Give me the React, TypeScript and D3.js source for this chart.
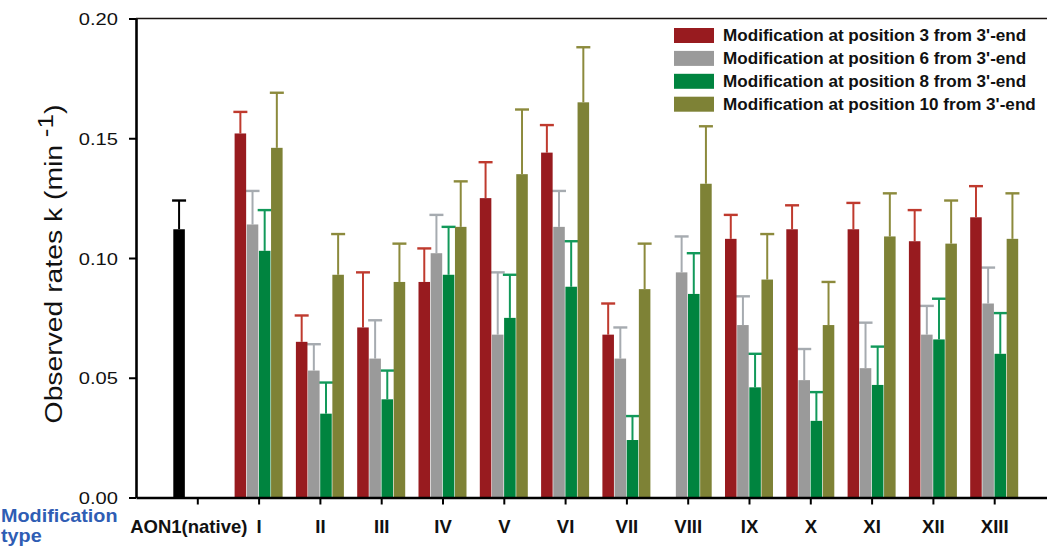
import { useEffect, useRef } from "react";
import * as d3 from "d3";

// x categories (first one is the unmodified AON1)
const categories = ["AON1(native)", "I", "II", "III", "IV", "V", "VI", "VII", "VIII", "IX", "X", "XI", "XII", "XIII"];

const seriesNames = [
  "Modification at position 3 from 3'-end",
  "Modification at position 6 from 3'-end",
  "Modification at position 8 from 3'-end",
  "Modification at position 10 from 3'-end",
];
const barColors = ["#981b1f", "#9a9a9a", "#00843f", "#7e8236"];
const errColors = ["#bf3a2e", "#a6abb0", "#12995a", "#8c8a3c"];

const nativeValue = 0.112;
const nativeError = 0.012;

// values for I..XIII, null = not measured
const pos3Values = [0.152, 0.065, 0.071, 0.090, 0.125, 0.144, 0.068, null, 0.108, 0.112, 0.112, 0.107, 0.117];
const pos3Errors = [0.009, 0.011, 0.023, 0.014, 0.015, 0.0115, 0.013, null, 0.010, 0.010, 0.011, 0.013, 0.013];
const pos6Values = [0.114, 0.053, 0.058, 0.102, 0.068, 0.113, 0.058, 0.094, 0.072, 0.049, 0.054, 0.068, 0.081];
const pos6Errors = [0.014, 0.011, 0.016, 0.016, 0.026, 0.015, 0.013, 0.015, 0.012, 0.013, 0.019, 0.012, 0.015];
const pos8Values = [0.103, 0.035, 0.041, 0.093, 0.075, 0.088, 0.024, 0.085, 0.046, 0.032, 0.047, 0.066, 0.060];
const pos8Errors = [0.017, 0.013, 0.012, 0.020, 0.018, 0.019, 0.010, 0.017, 0.014, 0.012, 0.016, 0.017, 0.017];
const pos10Values = [0.146, 0.093, 0.090, 0.113, 0.135, 0.165, 0.087, 0.131, 0.091, 0.072, 0.109, 0.106, 0.108];
const pos10Errors = [0.023, 0.017, 0.016, 0.019, 0.027, 0.023, 0.019, 0.024, 0.019, 0.018, 0.018, 0.018, 0.019];

const yTicks = [0, 0.05, 0.1, 0.15, 0.2];

export default function App() {
  const ref = useRef<SVGSVGElement>(null);

  useEffect(() => {
    const W = 1047, H = 546;
    const left = 136, top = 18.5, bottom = 497.5, right = 1055.5;

    const svg = d3.select(ref.current);
    svg.selectAll("*").remove();

    const x = d3.scalePoint().domain(categories).range([left, right]).padding(1);
    const slot = d3.scaleBand().domain(["0", "1", "2", "3"]).range([-24, 24]).paddingInner(0.05);
    const y = d3.scaleLinear().domain([0, 0.2]).range([bottom, top]);

    // build bar records
    const valueSets = [pos3Values, pos6Values, pos8Values, pos10Values];
    const errorSets = [pos3Errors, pos6Errors, pos8Errors, pos10Errors];
    const bars: { cat: string; s: number; v: number; e: number; fill: string; ec: string }[] = [];
    bars.push({ cat: categories[0], s: 0, v: nativeValue, e: nativeError, fill: "#000", ec: "#000" });
    valueSets.forEach((vals, s) => {
      vals.forEach((v, i) => {
        if (v == null) return;
        bars.push({ cat: categories[i + 1], s, v, e: errorSets[s][i] as number, fill: barColors[s], ec: errColors[s] });
      });
    });

    const bx = (d) => (x(d.cat) as number) + (slot(String(d.s)) as number);
    const bw = slot.bandwidth();

    // top frame line
    svg.append("line")
      .attr("x1", left).attr("x2", W + 10)
      .attr("y1", top).attr("y2", top)
      .attr("stroke", "#1a1412").attr("stroke-width", 1.6);

    // error bars (behind bars)
    const eg = svg.append("g");
    eg.selectAll("line.v").data(bars).enter().append("line")
      .attr("x1", d => bx(d) + bw / 2).attr("x2", d => bx(d) + bw / 2)
      .attr("y1", d => y(d.v)).attr("y2", d => y(d.v + d.e))
      .attr("stroke", d => d.ec).attr("stroke-width", 2);
    eg.selectAll("line.c").data(bars).enter().append("line")
      .attr("x1", d => bx(d) + bw / 2 - 7).attr("x2", d => bx(d) + bw / 2 + 7)
      .attr("y1", d => y(d.v + d.e)).attr("y2", d => y(d.v + d.e))
      .attr("stroke", d => d.ec).attr("stroke-width", 2.4);

    svg.append("g").selectAll("rect").data(bars).enter().append("rect")
      .attr("x", d => bx(d))
      .attr("width", bw)
      .attr("y", d => y(d.v))
      .attr("height", d => y(0) - y(d.v))
      .attr("fill", d => d.fill);

    // axes
    const yAxis = svg.append("g")
      .attr("transform", `translate(${left},0)`)
      .call(d3.axisLeft(y).tickValues(yTicks).tickFormat(d3.format(".2f")).tickSize(7).tickSizeOuter(0));
    yAxis.select(".domain").attr("stroke-width", 2.6);
    yAxis.selectAll(".tick line").attr("stroke-width", 2);
    yAxis.selectAll(".tick text")
      .attr("x", 0).attr("dy", 0)
      .attr("transform", "translate(-18,6) scale(1.2,1)")
      .attr("font-family", "Liberation Sans, Arial, sans-serif")
      .attr("font-size", 16.8)
      .attr("fill", "#111");

    const xAxis = svg.append("g")
      .attr("transform", `translate(0,${bottom})`)
      .call(d3.axisBottom(x).tickSize(7).tickSizeOuter(0));
    xAxis.select(".domain").attr("stroke-width", 2.6);
    xAxis.selectAll(".tick line").attr("stroke-width", 2);
    xAxis.selectAll(".tick text")
      .attr("x", (d, i) => (i === 0 ? -9 : 0))
      .attr("y", 35.5).attr("dy", 0)
      .attr("font-family", "Liberation Sans, Arial, sans-serif")
      .attr("font-weight", "bold")
      .attr("font-size", 18.5)
      .attr("fill", "#111");

    // y title
    const yt = svg.append("text")
      .attr("transform", "translate(62,264) rotate(-90) scale(1.18,1)")
      .attr("text-anchor", "middle")
      .attr("font-family", "Liberation Sans, Arial, sans-serif")
      .attr("font-size", 24)
      .attr("fill", "#111");
    yt.append("tspan").text("Observed rates k (min ");
    yt.append("tspan").attr("dy", -9).attr("font-size", 22).text("-1");
    yt.append("tspan").attr("dy", 9).text(")");

    // "Modification type" label
    const mt = svg.append("text")
      .attr("font-family", "Liberation Sans, Arial, sans-serif")
      .attr("font-weight", "bold")
      .attr("font-size", 18)
      .attr("fill", "#2f5db4")
      .attr("transform", "translate(1,0) scale(1.1,1)");
    mt.append("tspan").attr("x", 0).attr("y", 522).text("Modification");
    mt.append("tspan").attr("x", 0).attr("y", 542).text("type");

    // legend
    const legend = svg.append("g").attr("transform", "translate(674,28)");
    const rows = legend.selectAll("g").data(seriesNames).enter().append("g")
      .attr("transform", (d, i) => `translate(0,${i * 22.9})`);
    rows.append("rect")
      .attr("width", 40).attr("height", 15)
      .attr("fill", (d, i) => barColors[i]);
    rows.append("text")
      .attr("transform", "translate(49,12.9) scale(1.07,1)")
      .attr("font-family", "Liberation Sans, Arial, sans-serif")
      .attr("font-weight", "bold")
      .attr("font-size", 16)
      .attr("fill", "#111")
      .text(d => d);

    svg.attr("width", W).attr("height", H);
  }, []);

  return (
    <svg ref={ref} width={1047} height={546}
      style={{ position: "absolute", left: 0, top: 0, background: "#fff" }} />
  );
}
